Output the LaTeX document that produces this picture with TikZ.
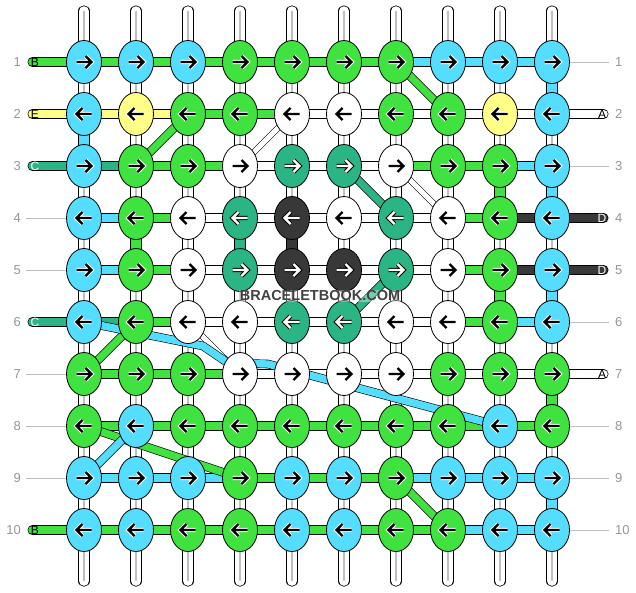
\documentclass[tikz,border=0pt]{standalone}
\usepackage{fontspec}
\setmainfont{Liberation Sans}
\setsansfont{Liberation Sans}
\usepackage{xcolor}
\usetikzlibrary{shapes.geometric}
\usetikzlibrary{positioning}
\usetikzlibrary{backgrounds}

\definecolor{kb}{RGB}{85,221,255}
\definecolor{kg}{RGB}{64,226,64}
\definecolor{ky}{RGB}{255,255,136}
\definecolor{kw}{RGB}{255,255,255}
\definecolor{kt}{RGB}{44,181,132}
\definecolor{kd}{RGB}{56,56,56}
\definecolor{numgray}{RGB}{150,150,150}
\definecolor{guidegray}{RGB}{190,190,190}
\definecolor{brandgray}{RGB}{66,66,66}
% arrow / halo colour for each knot colour
\colorlet{arr-b}{black}\colorlet{arr-g}{black}\colorlet{arr-y}{black}\colorlet{arr-w}{black}
\colorlet{arr-t}{white}\colorlet{arr-d}{white}
\colorlet{halo-b}{white}\colorlet{halo-g}{white}\colorlet{halo-y}{white}\colorlet{halo-w}{white}
\colorlet{halo-t}{black}\colorlet{halo-d}{black}

\begin{document}
\begin{tikzpicture}[x=1pt, y=-1pt, font=\sffamily]
	\tikzstyle{knot}=[ellipse, draw=black, line width=0.8pt, minimum width=35pt, minimum height=43pt, inner sep=0pt]
	\tikzstyle{num}=[text=numgray, inner sep=0pt, font=\fontsize{13}{13}\selectfont]
	\tikzstyle{tag}=[inner sep=0pt, font=\fontsize{12}{12}\selectfont]
	\tikzstyle{guide}=[draw=guidegray, line width=1pt]
	\tikzset{
		bar/.style={draw=black, line width=0.7pt, double=#1, double distance=8.6pt},
		strand/.style={draw=black, line width=0.6pt, double=#1, double distance=7.4pt},
		tube/.style={draw=black, line width=0.8pt, double=white, double distance=9.6pt, line cap=round}
	}
	\useasboundingbox (0,0) rectangle (636,592);
	
	% knots, row by row
	\foreach \r/\dir/\knots in {
		1/1/{b,b,b,g,g,g,g,b,b,b},
		2/-1/{b,y,g,g,w,w,g,g,y,b},
		3/1/{b,g,g,w,t,t,w,g,g,b},
		4/-1/{b,g,w,t,d,w,t,w,g,b},
		5/1/{b,g,w,t,d,d,t,w,g,b},
		6/-1/{b,g,w,w,t,t,w,w,g,b},
		7/1/{g,g,g,w,w,w,w,g,g,g},
		8/-1/{g,b,g,g,g,g,g,g,b,g},
		9/1/{b,b,b,g,b,b,g,b,b,b},
		10/-1/{b,b,g,g,b,b,g,g,b,b}}
	\foreach \col [count=\c] in \knots {
		\node[knot, fill=k\col] (k-\r-\c) at ({32+52*\c}, {10+52*\r}) {};
		\begin{scope}[shift={(k-\r-\c)}, xscale=\dir]
			\draw[draw=halo-\col, line width=4.4pt] (-7.5,0) -- (7.5,0) (1.5,-6) -- (7.5,0) -- (1.5,6);
			\draw[draw=arr-\col, line width=2.4pt] (-7.5,0) -- (7.5,0) (1.5,-6) -- (7.5,0) -- (1.5,6);
		\end{scope}
	}
	
	\begin{scope}[on background layer]
		% base strings
		\foreach \c in {1,...,10} {
			\coordinate (top-\c) at ({32+52*\c}, 11);
			\coordinate (bot-\c) at ({32+52*\c}, 581);
			\draw[tube] (top-\c) -- (bot-\c);
			\draw[black!25, line width=1.2pt] (top-\c) -- (bot-\c);
		}
		\foreach \c/\r/\col in {1/2/b, 10/1/b, 10/3/b, 9/3/g, 2/4/g, 4/4/t, 5/4/d, 9/5/g, 10/5/b, 10/7/g, 10/9/b} {
			\pgfmathtruncatemacro{\rn}{\r+1}
			\draw[tube, double=k\col, line cap=butt] (k-\r-\c.center) -- (k-\rn-\c.center);
		}
		% working strings
		\foreach \r/\segs in {
			1/{g,g,g,g,g,g,b,b,b},
			2/{y,y,g,g,w,w,w,w,w},
			3/{t,g,g,w,w,w,g,g,b},
			4/{b,g,w,w,w,w,w,g,d},
			5/{b,g,w,w,w,w,w,g,d},
			6/{t,g,w,w,w,w,w,g,b},
			7/{g,g,g,w,w,w,w,w,w},
			8/{g,g,g,g,g,g,g,g,g},
			9/{b,b,b,g,g,g,b,b,b},
			10/{g,g,g,g,g,g,g,b,b}}
		\foreach \col [count=\c] in \segs {
			\pgfmathtruncatemacro{\cn}{\c+1}
			\draw[bar=k\col] (k-\r-\c.center) -- (k-\r-\cn.center);
		}
		% loose ends
		\foreach \r/\col in {1/g, 2/y, 3/t, 6/t, 10/g} {
			\coordinate (sl-\r) at (32.5, {10+52*\r});
			\draw[bar=k\col, line cap=round] (sl-\r) -- (k-\r-1.center);
		}
		\foreach \r/\col in {2/w, 4/d, 5/d, 7/w} {
			\coordinate (sr-\r) at (603.5, {10+52*\r});
			\draw[bar=k\col, line cap=round] (k-\r-10.center) -- (sr-\r);
		}
		% crossing strands
		\foreach \a/\b/\col in {k-1-7/k-2-8/g, k-2-3/k-3-2/g, k-6-2/k-7-1/g, k-8-1/k-9-4/g, k-9-7/k-10-8/g, k-3-6/k-4-7/t, k-5-7/k-6-6/t, k-8-2/k-9-1/b}
			\draw[strand=k\col] (\a.center) -- (\b.center);
		\foreach \a/\b in {k-2-5/k-3-4, k-3-7/k-4-8, k-6-3/k-7-4}
			\draw[strand=white, double distance=5pt] (\a.center) -- (\b.center);
		\coordinate (bend-1) at (203,346);
		\coordinate (bend-2) at (228,363);
		\coordinate (bend-3) at (268,364);
		\draw[strand=kb, line join=round] (k-6-1.center) -- (bend-1) -- (bend-2) -- (bend-3) -- (k-8-9.center);
	\end{scope}
	
	% row numbers and guides
	\foreach \r in {1,...,10} {
		\node[num, anchor=east, left=45pt of k-\r-1.west] (nl-\r) {\r};
		\node[num, anchor=west, right=45pt of k-\r-10.east] (nr-\r) {\r};
	}
	\foreach \r in {4,5,7,8,9} {
		\coordinate (gl-\r) at (26, {10+52*\r});
		\draw[guide] (gl-\r) -- (k-\r-1.west);
	}
	\foreach \r in {1,3,6,8,9,10} {
		\coordinate (gr-\r) at (609, {10+52*\r});
		\draw[guide] (k-\r-10.east) -- (gr-\r);
	}
	\foreach \r/\col/\txt in {1/g/B, 2/y/E, 3/t/C, 6/t/C, 10/g/B}
		\node[tag, text=arr-\col] (ls-\r) at (35, {10+52*\r}) {\txt};
	\foreach \r/\col/\txt in {2/w/A, 4/d/D, 5/d/D, 7/w/A}
		\node[tag, text=arr-\col] (rs-\r) at (602, {10+52*\r}) {\txt};
	
	\node[text=brandgray, font=\bfseries\fontsize{14.5}{14.5}\selectfont, fill=white, fill opacity=0.35, text opacity=1, inner sep=0.5pt] (brand) at (320,296) {BRACELETBOOK.COM};
\end{tikzpicture}
\end{document}
